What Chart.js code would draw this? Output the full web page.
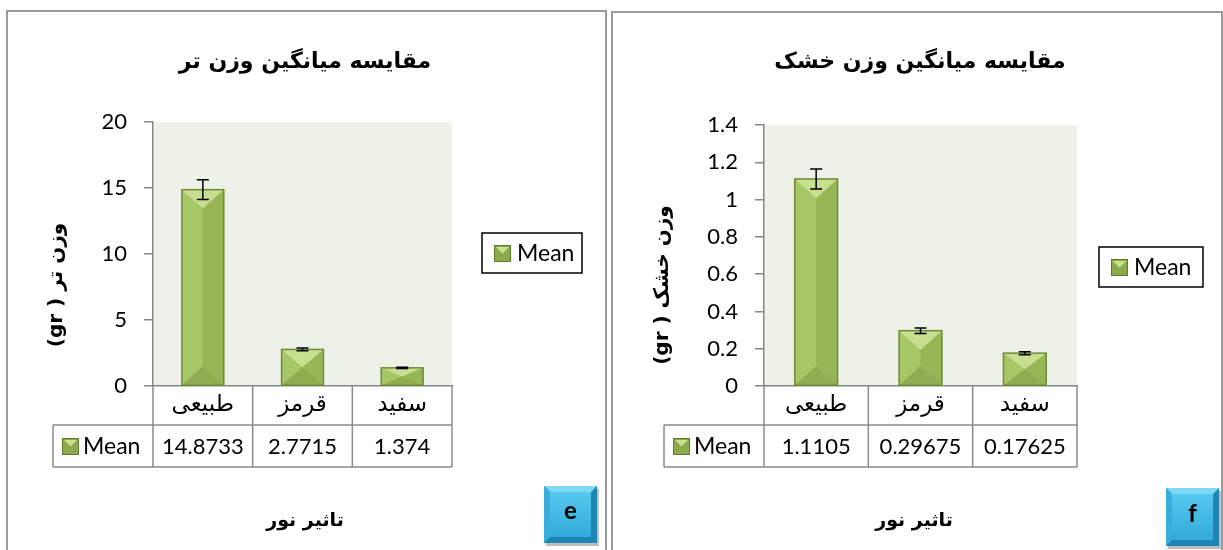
<!DOCTYPE html>
<html>
<head>
<meta charset="utf-8">
<script src="https://cdn.jsdelivr.net/npm/chart.js@4.4.1/dist/chart.umd.min.js"></script>
<style>
  body { margin: 0; background: #fff; width: 1223px; height: 550px; overflow: hidden; position: relative; }
  .panel { position: absolute; border: 2px solid #9b9b9b; box-sizing: border-box; }
  canvas { position: absolute; top: 0; }
</style>
</head>
<body>
<div class="panel" style="left:6px;top:10px;width:601px;height:560px"></div>
<div class="panel" style="left:611px;top:11px;width:612px;height:560px"></div>
<canvas id="fresh" width="608" height="550" style="left:0"></canvas>
<canvas id="dry" width="615" height="550" style="left:608px"></canvas>
<script>
const categories = ['طبیعی', 'قرمز', 'سفید'];
const freshMean = [14.8733, 2.7715, 1.374];
const freshErr = [0.75, 0.1, 0.05];
const dryMean = [1.1105, 0.29675, 0.17625];
const dryErr = [0.054, 0.015, 0.008];
const freshTicks = ['0', '5', '10', '15', '20'];
const dryTicks = ['0', '0.2', '0.4', '0.6', '0.8', '1', '1.2', '1.4'];

const AXIS = '#868686';
const AR_FONT = '"DejaVu Sans", sans-serif';
const NUM_FONT = 'Lato, sans-serif';

// bar with the excel "angle" bevel look
function bevel(ctx, x, y, w, h) {
  const cx = x + w / 2, d = Math.min(w * 0.45, h / 2);
  ctx.save();
  ctx.fillStyle = '#A7C668';
  ctx.fillRect(x, y, w / 2, h);
  ctx.fillStyle = '#97B656';
  ctx.fillRect(cx, y, w / 2, h);
  ctx.fillStyle = '#C7DF8F';
  ctx.beginPath(); ctx.moveTo(x, y); ctx.lineTo(x + w, y); ctx.lineTo(cx, y + d); ctx.closePath(); ctx.fill();
  ctx.fillStyle = '#8FAD50';
  ctx.beginPath(); ctx.moveTo(x, y + h); ctx.lineTo(x + w, y + h); ctx.lineTo(cx, y + h - d); ctx.closePath(); ctx.fill();
  ctx.strokeStyle = '#6E8A38';
  ctx.lineWidth = 1.5;
  ctx.strokeRect(x, y, w, h);
  ctx.restore();
}

function keyIcon(ctx, x, y, s) {
  ctx.save();
  ctx.fillStyle = '#8CAA4C';
  ctx.fillRect(x, y, s, s);
  ctx.fillStyle = '#C9E190';
  ctx.beginPath(); ctx.moveTo(x + 2, y + 2); ctx.lineTo(x + s - 2, y + 2); ctx.lineTo(x + s / 2, y + s / 2); ctx.closePath(); ctx.fill();
  ctx.strokeStyle = '#5E7A2C';
  ctx.lineWidth = 1;
  ctx.strokeRect(x + 0.5, y + 0.5, s - 1, s - 1);
  ctx.restore();
}

function badge(ctx, b) {
  const {x, y, w, h} = b;
  ctx.save();
  ctx.fillStyle = 'rgba(0,0,0,0.25)';
  ctx.fillRect(x + 2, y + 3, w, h);
  ctx.fillStyle = '#1E86B3';
  ctx.fillRect(x, y, w, h);
  ctx.fillStyle = '#7DD8F4';
  ctx.beginPath(); ctx.moveTo(x, y); ctx.lineTo(x + w, y); ctx.lineTo(x + w - 6, y + 6); ctx.lineTo(x + 6, y + 6); ctx.closePath(); ctx.fill();
  ctx.fillStyle = '#3AAEDB';
  ctx.beginPath(); ctx.moveTo(x, y); ctx.lineTo(x + 6, y + 6); ctx.lineTo(x + 6, y + h - 6); ctx.lineTo(x, y + h); ctx.closePath(); ctx.fill();
  const g = ctx.createLinearGradient(0, y + 6, 0, y + h - 6);
  g.addColorStop(0, '#55C8EE');
  g.addColorStop(1, '#33AAD9');
  ctx.fillStyle = g;
  ctx.fillRect(x + 6, y + 6, w - 12, h - 12);
  ctx.fillStyle = '#000';
  ctx.font = 'bold 24px ' + NUM_FONT;
  ctx.textAlign = 'center';
  ctx.textBaseline = 'middle';
  ctx.fillText(b.text, x + w / 2, y + h / 2 - 3);
  ctx.restore();
}

const excelLook = {
  id: 'excelLook',
  beforeDraw(chart) {
    const {ctx, chartArea: a} = chart;
    ctx.save();
    ctx.fillStyle = '#EEF1E8';
    ctx.fillRect(a.left, a.top, a.right - a.left, a.bottom - a.top);
    ctx.restore();
  },
  afterDatasetsDraw(chart, args, opts) {
    const ctx = chart.ctx;
    const ys = chart.scales.y;
    const values = chart.data.datasets[0].data;
    chart.getDatasetMeta(0).data.forEach((bar, i) => {
      bevel(ctx, bar.x - bar.width / 2, bar.y, bar.width, bar.base - bar.y);
      const top = ys.getPixelForValue(values[i] + opts.errors[i]);
      const bot = ys.getPixelForValue(values[i] - opts.errors[i]);
      ctx.save();
      ctx.strokeStyle = '#000';
      ctx.lineWidth = 1.5;
      ctx.beginPath();
      ctx.moveTo(bar.x, top); ctx.lineTo(bar.x, bot);
      ctx.moveTo(bar.x - 6, top); ctx.lineTo(bar.x + 6, top);
      ctx.moveTo(bar.x - 6, bot); ctx.lineTo(bar.x + 6, bot);
      ctx.stroke();
      ctx.restore();
    });
  },
  afterDraw(chart, args, opts) {
    const {ctx, chartArea: a} = chart;
    const xs = chart.scales.x;
    const labels = chart.data.labels;
    const values = chart.data.datasets[0].data;
    const n = labels.length;
    const cw = (a.right - a.left) / n;
    const r1 = a.bottom, r2 = r1 + 39, r3 = r2 + 42;
    const tl = a.left - opts.keyW;

    ctx.save();
    // chart title
    ctx.fillStyle = '#000';
    ctx.textAlign = 'center';
    ctx.textBaseline = 'middle';
    ctx.font = 'bold 22px ' + AR_FONT;
    ctx.fillText(opts.title.text, opts.title.x, opts.title.y);

    // data table
    ctx.strokeStyle = '#8C8C8C';
    ctx.lineWidth = 1.5;
    ctx.beginPath();
    for (let i = 0; i <= n; i++) {
      const px = a.left + i * cw;
      ctx.moveTo(px, r1); ctx.lineTo(px, r3);
    }
    ctx.moveTo(tl, r2); ctx.lineTo(a.right, r2);
    ctx.moveTo(tl, r3); ctx.lineTo(a.right, r3);
    ctx.moveTo(tl, r2); ctx.lineTo(tl, r3);
    ctx.stroke();

    ctx.font = '23px ' + AR_FONT;
    labels.forEach((l, i) => ctx.fillText(l, xs.getPixelForValue(i), (r1 + r2) / 2));
    ctx.font = '22px ' + NUM_FONT;
    values.forEach((v, i) => ctx.fillText(String(v), xs.getPixelForValue(i), (r2 + r3) / 2 + 1));
    keyIcon(ctx, tl + 9, (r2 + r3) / 2 - 8, 17);
    ctx.textAlign = 'left';
    ctx.font = '23px ' + NUM_FONT;
    ctx.fillText(chart.data.datasets[0].label, tl + 30, (r2 + r3) / 2 + 1);

    // legend box
    const L = opts.legend;
    ctx.strokeStyle = '#000';
    ctx.lineWidth = 1.5;
    ctx.strokeRect(L.x, L.y, L.w, L.h);
    keyIcon(ctx, L.x + 12, L.y + L.h / 2 - 8, 17);
    ctx.fillText(chart.data.datasets[0].label, L.x + 35, L.y + L.h / 2 + 1);

    // axis titles
    ctx.font = 'bold 20px ' + AR_FONT;
    ctx.textAlign = 'center';
    ctx.direction = 'rtl';
    ctx.save();
    ctx.translate(opts.yTitle.x, opts.yTitle.y);
    ctx.rotate(-Math.PI / 2);
    ctx.fillText(opts.yTitle.text, 0, 0);
    ctx.restore();
    ctx.font = 'bold 19px ' + AR_FONT;
    ctx.fillText(opts.xTitle.text, opts.xTitle.x, opts.xTitle.y);
    ctx.restore();

    badge(ctx, opts.badge);
  }
};

function makeChart(id, values, errors, ticks, max, step, yWidth, padRight, padTop, barPct, extra) {
  return new Chart(document.getElementById(id), {
    type: 'bar',
    data: {
      labels: categories,
      datasets: [{
        label: 'Mean',
        data: values,
        backgroundColor: '#9BBB59',
        barPercentage: barPct,
        categoryPercentage: 1
      }]
    },
    options: {
      responsive: false,
      animation: false,
      layout: { padding: { left: 0, right: padRight, top: padTop, bottom: 0 } },
      plugins: {
        legend: { display: false },
        tooltip: { enabled: false },
        excelLook: Object.assign({ errors: errors, keyW: 100 }, extra)
      },
      scales: {
        x: {
          ticks: { display: false },
          grid: { display: false },
          border: { display: true, color: AXIS, width: 1.5 },
          afterFit: s => { s.height = 164; }
        },
        y: {
          min: 0,
          max: max,
          ticks: {
            stepSize: step,
            padding: 17,
            color: '#000',
            font: { family: NUM_FONT, size: 22 },
            callback: (v, i) => ticks[i]
          },
          grid: { drawOnChartArea: false, tickLength: 9, color: AXIS, lineWidth: 1.5 },
          border: { color: AXIS, width: 1.5 },
          afterFit: s => { s.width = yWidth; }
        }
      }
    },
    plugins: [excelLook]
  });
}

makeChart('fresh', freshMean, freshErr, freshTicks, 20, 5, 153, 156, 122, 0.42, {
  title: { text: 'مقایسه میانگین وزن تر', x: 305, y: 62 },
  legend: { x: 482, y: 233, w: 100, h: 40 },
  yTitle: { text: 'وزن تر ( gr)', x: 57, y: 285 },
  xTitle: { text: 'تاثیر نور', x: 305, y: 521 },
  badge: { text: 'e', x: 544, y: 486, w: 53, h: 57 }
});

makeChart('dry', dryMean, dryErr, dryTicks, 1.4, 0.2, 156, 146, 125, 0.41, {
  title: { text: 'مقایسه میانگین وزن خشک', x: 312, y: 62 },
  legend: { x: 491, y: 247, w: 104, h: 40 },
  yTitle: { text: 'وزن خشک ( gr)', x: 55, y: 285 },
  xTitle: { text: 'تاثیر نور', x: 306, y: 521 },
  badge: { text: 'f', x: 558, y: 488, w: 53, h: 58 }
});
</script>
</body>
</html>
